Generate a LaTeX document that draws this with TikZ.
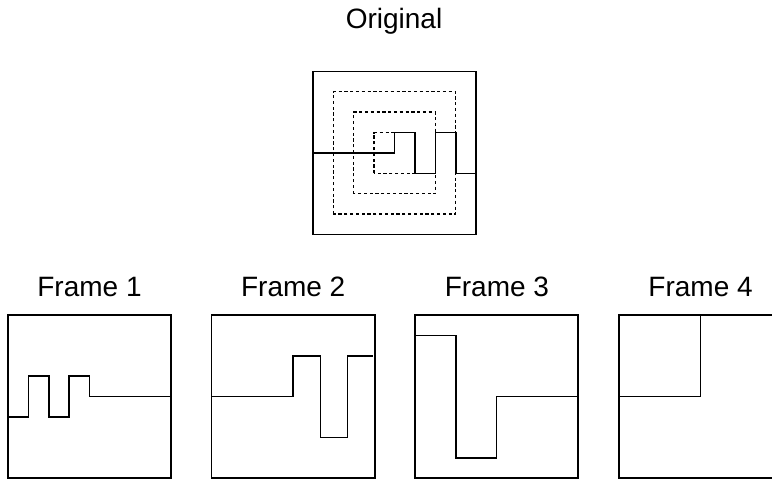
\documentclass[tikz,border=0pt]{standalone}
\usepackage{fontspec}
\setmainfont{Liberation Sans}
\begin{document}
\begin{tikzpicture}[x=1pt,y=-1pt,
  lbl/.style={anchor=base,inner sep=0pt,font=\fontsize{28}{34}\selectfont},
  boxline/.style={line width=1.6pt},
  sig/.style={line width=1.6pt,line join=miter},
  dsh/.style={line width=1.5pt,dash pattern=on 3.2pt off 2.6pt}]
\clip (0,0) rectangle (772,479);
\fill[white] (0,0) rectangle (772,479);
% labels
\node[lbl] (lo) at (394,28.3) {Original};
\node[lbl] (l1) at (89.5,296.7) {Frame 1};
\node[lbl] (l2) at (293.2,296.7) {Frame 2};
\node[lbl] (l3) at (496.9,296.7) {Frame 3};
\node[lbl] (l4) at (700.6,296.7) {Frame 4};
% original
\begin{scope}[shift={(394.5,152.9)},x=20.4pt,y=20.4pt]
  \draw[boxline] (-4,-4) rectangle (4,4);
  \draw[dsh] (-3,-3) rectangle (3,3);
  \draw[dsh] (-2,-2) rectangle (2,2);
  \draw[dsh] (-1,-1) rectangle (1,1);
  \draw[sig] (-4,0) -- (0,0) -- (0,1) -- (1,1) -- (1,-1) -- (2,-1) -- (2,1) -- (3,1) -- (3,-1) -- (4,-1);
\end{scope}
% frame 1
\begin{scope}[shift={(89.5,396.3)},x=20.4pt,y=20.4pt]
  \draw[boxline] (-4,-4) rectangle (4,4);
  \draw[sig] (-4,-1) -- (-3,-1) -- (-3,1) -- (-2,1) -- (-2,-1) -- (-1,-1) -- (-1,1) -- (0,1) -- (0,0) -- (4,0);
\end{scope}
% frame 2
\begin{scope}[shift={(293.2,396.6)},x=20.4pt,y=20.4pt]
  \draw[boxline] (-4,-4) rectangle (4,4);
  \draw[sig] (-4,0) -- (0,0) -- (0,2) -- (1.33,2) -- (1.33,-2) -- (2.67,-2) -- (2.67,2) -- (3.9,2);
\end{scope}
% frame 3
\begin{scope}[shift={(496.6,396.6)},x=20.4pt,y=20.4pt]
  \draw[boxline] (-4,-4) rectangle (4,4);
  \draw[sig] (-4,3) -- (-2,3) -- (-2,-3) -- (0,-3) -- (0,0) -- (4,0);
\end{scope}
% frame 4
\begin{scope}[shift={(700.6,396.6)},x=20.4pt,y=20.4pt]
  \draw[boxline] (-4,-4) rectangle (4,4);
  \draw[sig] (-4,0) -- (0,0) -- (0,4) -- (4,4);
\end{scope}
\end{tikzpicture}
\end{document}
